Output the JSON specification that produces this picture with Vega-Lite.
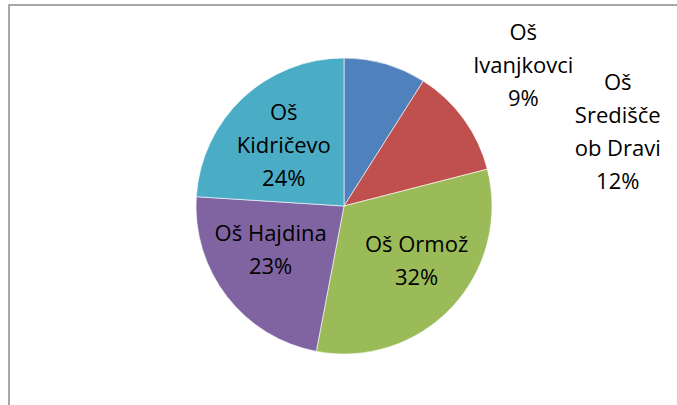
{
  "$schema": "https://vega.github.io/schema/vega-lite/v6.json",
  "autosize": {"type": "fit", "contains": "padding"},
  "width": 677,
  "height": 405,
  "padding": {"left": 9, "top": 5, "right": -2, "bottom": -2},
  "background": "#ffffff",
  "view": {"stroke": "#8a8a8a", "strokeWidth": 1.5},
  "config": {
    "text": {"font": "Open Sans", "fontSize": 22, "color": "#000000", "lineHeight": 33, "lineBreak": "\n"}
  },
  "data": {
    "values": [
      {"idx": 1, "name": "Oš Ivanjkovci", "pct": 9, "label": "Oš\nIvanjkovci\n9%"},
      {"idx": 2, "name": "Oš Središče ob Dravi", "pct": 12, "label": "Oš\nSredišče\nob Dravi\n12%"},
      {"idx": 3, "name": "Oš Ormož", "pct": 32, "label": "Oš Ormož\n32%"},
      {"idx": 4, "name": "Oš Hajdina", "pct": 23, "label": "Oš Hajdina\n23%"},
      {"idx": 5, "name": "Oš Kidričevo", "pct": 24, "label": "Oš\nKidričevo\n24%"}
    ]
  },
  "encoding": {
    "theta": {"field": "pct", "type": "quantitative", "stack": true},
    "order": {"field": "idx", "type": "quantitative"}
  },
  "layer": [
    {
      "mark": {"type": "arc", "outerRadius": 148, "stroke": "#ffffff", "strokeWidth": 0.6},
      "encoding": {
        "color": {
          "field": "name",
          "type": "nominal",
          "sort": ["Oš Ivanjkovci", "Oš Središče ob Dravi", "Oš Ormož", "Oš Hajdina", "Oš Kidričevo"],
          "scale": {
            "domain": ["Oš Ivanjkovci", "Oš Središče ob Dravi", "Oš Ormož", "Oš Hajdina", "Oš Kidričevo"],
            "range": ["#4F81BD", "#C0504D", "#9BBB59", "#8064A2", "#4BACC6"]
          },
          "legend": null
        }
      }
    },
    {
      "mark": {"type": "text", "radius": 148, "dx": 138, "dy": -31, "align": "center", "baseline": "middle"},
      "encoding": {"text": {"condition": {"test": "datum.idx == 1", "field": "label"}, "value": ""}}
    },
    {
      "mark": {"type": "text", "radius": 148, "dx": 154, "dy": -36, "align": "center", "baseline": "middle"},
      "encoding": {"text": {"condition": {"test": "datum.idx == 2", "field": "label"}, "value": ""}}
    },
    {
      "mark": {"type": "text", "radius": 90, "dx": 7, "dy": -23, "align": "center", "baseline": "middle"},
      "encoding": {"text": {"condition": {"test": "datum.idx == 3", "field": "label"}, "value": ""}}
    },
    {
      "mark": {"type": "text", "radius": 84, "dx": -7, "dy": -23, "align": "center", "baseline": "middle"},
      "encoding": {"text": {"condition": {"test": "datum.idx == 4", "field": "label"}, "value": ""}}
    },
    {
      "mark": {"type": "text", "radius": 88, "dx": 0, "dy": -29, "align": "center", "baseline": "middle"},
      "encoding": {"text": {"condition": {"test": "datum.idx == 5", "field": "label"}, "value": ""}}
    }
  ]
}
